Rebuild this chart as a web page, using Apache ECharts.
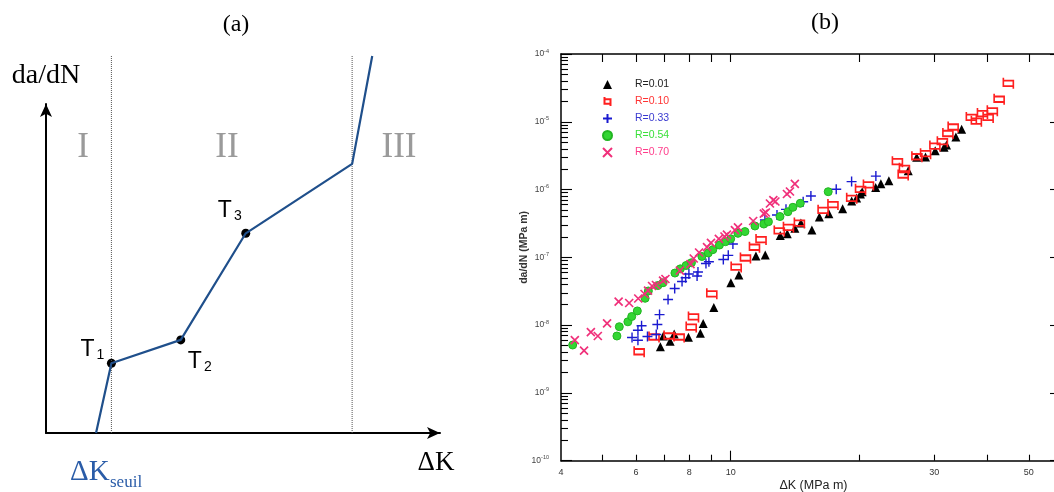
<!DOCTYPE html>
<html>
<head>
<meta charset="utf-8">
<script src="https://cdn.jsdelivr.net/npm/echarts@6/dist/echarts.min.js"></script>
<style>html,body{margin:0;padding:0;background:#fff}#c{width:1054px;height:492px}</style>
</head>
<body>
<div id="c"></div>
<script>
// ---------- Panel (b): fatigue crack growth data [ΔK (MPa√m), da/dN] ----------
const r001 = [[6.84,4.80e-9],[6.95,6.91e-9],[7.21,5.77e-9],[7.37,7.40e-9],[7.96,6.61e-9],[8.49,7.57e-9],[8.62,1.06e-8],[9.13,1.82e-8],[10.01,4.22e-8],[10.45,5.49e-8],[11.46,1.05e-7],[12.05,1.08e-7],[13.07,2.10e-7],[13.57,2.23e-7],[14.14,2.68e-7],[14.61,3.21e-7],[15.50,2.53e-7],[16.14,3.94e-7],[16.99,4.40e-7],[18.30,5.20e-7],[19.22,6.78e-7],[19.74,7.51e-7],[20.15,8.60e-7],[20.34,9.30e-7],[21.88,1.07e-6],[22.50,1.22e-6],[23.49,1.35e-6],[26.08,1.89e-6],[27.30,2.99e-6],[28.63,3.02e-6],[30.17,3.73e-6],[31.65,4.20e-6],[32.07,4.54e-6],[33.73,5.96e-6],[34.80,7.74e-6]];
const r010 = [[6.10,4.05e-9],[6.61,6.68e-9],[7.17,6.91e-9],[7.57,6.68e-9],[8.08,9.38e-9],[8.18,1.32e-8],[9.03,2.90e-8],[10.30,7.20e-8],[10.83,9.78e-8],[11.37,1.41e-7],[11.78,1.83e-7],[13.00,2.45e-7],[13.66,2.77e-7],[14.49,3.21e-7],[16.47,4.94e-7],[17.37,6.00e-7],[19.22,7.43e-7],[20.16,1.01e-6],[21.04,1.17e-6],[24.60,2.58e-6],[25.55,2.06e-6],[25.38,1.64e-6],[27.33,3.05e-6],[28.64,3.38e-6],[30.12,4.39e-6],[31.36,5.08e-6],[32.31,6.72e-6],[33.24,8.38e-6],[36.67,1.16e-5],[37.68,1.02e-5],[38.94,1.32e-5],[40.15,1.16e-5],[41.07,1.45e-5],[42.61,2.15e-5],[44.78,3.70e-5]];
const r033 = [[5.87,6.57e-9],[6.06,5.97e-9],[6.06,8.39e-9],[6.18,9.80e-9],[6.38,6.79e-9],[6.69,7.27e-9],[6.73,1.02e-8],[6.81,1.43e-8],[7.13,2.39e-8],[7.39,3.47e-8],[7.69,4.40e-8],[7.84,5.01e-8],[7.98,5.68e-8],[8.34,5.30e-8],[8.38,6.08e-8],[8.75,8.11e-8],[8.89,8.62e-8],[9.61,9.29e-8],[9.87,1.07e-7],[10.12,1.57e-7],[12.03,3.56e-7],[12.84,4.21e-7],[13.48,5.11e-7],[14.79,6.62e-7],[15.42,8.04e-7],[17.68,1.01e-6],[19.21,1.31e-6],[21.90,1.58e-6]];
const r054 = [[4.26,5.09e-9],[5.41,6.91e-9],[5.48,9.48e-9],[5.74,1.12e-8],[5.86,1.34e-8],[6.04,1.62e-8],[6.30,2.49e-8],[6.41,3.19e-8],[6.75,3.84e-8],[6.94,4.22e-8],[7.40,5.87e-8],[7.62,6.77e-8],[7.86,7.58e-8],[8.09,8.33e-8],[8.56,1.03e-7],[8.86,1.16e-7],[9.08,1.30e-7],[9.41,1.52e-7],[9.72,1.70e-7],[10.0,1.88e-7],[10.40,2.26e-7],[10.80,2.40e-7],[11.40,2.90e-7],[11.96,3.10e-7],[12.26,3.36e-7],[13.05,4.00e-7],[13.62,4.71e-7],[13.99,5.47e-7],[14.56,6.27e-7],[16.93,9.30e-7]];
const r070 = [[4.31,6.03e-9],[4.53,4.22e-9],[4.70,7.91e-9],[4.88,6.91e-9],[5.13,1.06e-8],[5.46,2.23e-8],[5.78,2.12e-8],[6.07,2.47e-8],[6.28,2.88e-8],[6.40,3.24e-8],[6.54,3.78e-8],[6.68,3.91e-8],[6.94,4.55e-8],[7.03,4.79e-8],[7.60,6.39e-8],[8.05,7.97e-8],[8.19,9.61e-8],[8.43,1.18e-7],[8.80,1.42e-7],[8.99,1.63e-7],[9.38,1.87e-7],[9.67,2.03e-7],[9.80,2.17e-7],[10.23,2.53e-7],[10.40,2.76e-7],[11.29,3.44e-7],[11.96,4.43e-7],[12.09,4.59e-7],[12.36,6.23e-7],[12.59,7.01e-7],[12.73,6.67e-7],[13.55,8.60e-7],[13.77,9.36e-7],[14.14,1.21e-6]];

const seriesNames = ['R=0.01','R=0.10','R=0.33','R=0.54','R=0.70'];
const xTickValues = [5,6,7,8,9,20,30,40,50];
const xMajorTick = [10];
const xLabelValues = [4,6,8,10,30,50];
const yDecades = [1e-10,1e-9,1e-8,1e-7,1e-6,1e-5,1e-4];
const yMinorMultipliers = [2,3,4,5,6,7,8,9];

// ---------- Panel (a): schematic curve (arbitrary units, 0-100) ----------
const curveX = [12.7, 16.6, 34.2, 50.7, 77.7, 82.8];
const curveY = [0, 21.2, 28.3, 60.7, 81.8, 114.6];
const transitionIdx = [1, 2, 3];
const transitionSub = ['1', '2', '3'];
const boundaryX = [16.6, 77.7];
const boundaryTop = 114.6;
const regimeLabels = ['I', 'II', 'III'];

// ---------- styling ----------
const SANS = '"Liberation Sans", Arial, sans-serif';
const SERIF = '"Liberation Serif", "DejaVu Serif", serif';
const colors = ['#000000', '#ff1f1f', '#1a1ad0', '#33d633', '#f0307a'];
const legendTextColors = ['#222222', '#ff3333', '#3a3ad0', '#3be03b', '#ff3d8b'];
const tOffsets = [[-19, -13], [19, 22], [-16, -22]];
const regimePos = [[83, 148], [227, 148], [399, 148]];

const yMinorTicks = [];
yDecades.slice(0, -1).forEach(d => yMinorMultipliers.forEach(m => yMinorTicks.push(m * d)));

const logX = {type: 'log', logBase: 10, min: 4, max: 57.3, gridIndex: 0, splitLine: {show: false}};
const logY = {type: 'log', logBase: 10, min: 1e-10, max: 1e-4, gridIndex: 0, splitLine: {show: false}};
const axLine = {lineStyle: {color: '#000', width: 1.5}};
const tickStyle = {color: '#000', width: 1.1};

const symbols = [
  'triangle',
  'path://M1,3L9,3L9,9L1,9Z M1,0L1,3 M9,9L9,12',
  'path://M5,0L5,10M0,5L10,5',
  'circle',
  'path://M0,0L10,10M10,0L0,10'
];
const symbolSizes = [9, [10, 11], 10, 8, 8];
const itemStyles = [
  {color: colors[0], opacity: 1},
  {color: 'rgba(0,0,0,0)', borderColor: colors[1], borderWidth: 1.7, opacity: 1},
  {color: 'rgba(0,0,0,0)', borderColor: colors[2], borderWidth: 1.4, opacity: 1},
  {color: colors[3], borderColor: '#22b522', borderWidth: 1, opacity: 1},
  {color: 'rgba(0,0,0,0)', borderColor: colors[4], borderWidth: 1.7, opacity: 1}
];
const dataSets = [r001, r010, r033, r054, r070];

const scatterSeries = dataSets.map((d, i) => ({
  name: seriesNames[i], type: 'scatter', xAxisIndex: 0, yAxisIndex: 0,
  data: d, symbol: symbols[i], symbolSize: symbolSizes[i], itemStyle: itemStyles[i],
  emphasis: {disabled: true}
}));

const curveData = curveX.map((x, i) => [x, curveY[i]]);

const option = {
  animation: false,
  backgroundColor: '#fff',
  grid: [
    {left: 561, top: 54, width: 493, height: 406.7, outerBoundsMode: 'none', containLabel: false},
    {left: 46, top: 104, width: 394, height: 329, outerBoundsMode: 'none', containLabel: false}
  ],
  legend: {
    orient: 'vertical', left: 597, top: 74, itemWidth: 9, itemHeight: 9, itemGap: 6,
    selectedMode: false,
    textStyle: {fontSize: 10.5, fontFamily: SANS, padding: [0, 0, 0, 18]},
    data: seriesNames.map((n, i) => ({name: n, textStyle: {color: legendTextColors[i], padding: [0, 0, 0, 18]}}))
  },
  xAxis: [
    Object.assign({}, logX, {
      position: 'bottom', axisLine: axLine,
      axisTick: {inside: true, length: 6, customValues: xTickValues, lineStyle: tickStyle},
      axisLabel: {customValues: xLabelValues, fontSize: 9, color: '#333', margin: 7, fontFamily: SANS},
      name: 'ΔK (MPa m)', nameLocation: 'middle', nameGap: 18, nameMoveOverlap: false,
      nameTextStyle: {fontSize: 12.5, color: '#222', fontFamily: SANS, padding: [0, 0, 0, 12]}
    }),
    Object.assign({}, logX, {
      position: 'bottom', axisLine: {show: false},
      axisTick: {inside: true, length: 10, customValues: xMajorTick, lineStyle: tickStyle},
      axisLabel: {show: false}
    }),
    Object.assign({}, logX, {
      position: 'top', axisLine: axLine,
      axisTick: {inside: true, length: 8, customValues: xTickValues.concat(xMajorTick), lineStyle: tickStyle},
      axisLabel: {show: false}
    }),
    {
      gridIndex: 1, type: 'value', min: 0, max: 100,
      axisLine: {symbol: ['none', 'arrow'], symbolSize: [9, 13], symbolOffset: [0, 0], lineStyle: {color: '#000', width: 2}},
      axisTick: {show: false}, axisLabel: {show: false}, splitLine: {show: false},
      name: 'ΔK', nameLocation: 'end', nameGap: -4,
      nameTextStyle: {fontFamily: SERIF, fontSize: 27, color: '#000', align: 'center', verticalAlign: 'top', padding: [16, 0, 0, 0]}
    }
  ],
  yAxis: [
    Object.assign({}, logY, {
      position: 'left', axisLine: axLine,
      axisTick: {inside: true, length: 7, customValues: yMinorTicks, lineStyle: tickStyle},
      axisLabel: {
        customValues: yDecades, margin: 12,
        formatter: v => '{b|10}{s|' + Math.round(Math.log10(v)) + '}',
        rich: {
          b: {fontSize: 8.5, color: '#444', fontFamily: SANS},
          s: {fontSize: 5.5, color: '#444', fontFamily: SANS, verticalAlign: 'top', padding: [0, 0, 6, 0]}
        }
      },
      name: 'da/dN (MPa m)', nameLocation: 'middle', nameGap: 31, nameMoveOverlap: false,
      nameTextStyle: {fontSize: 10.5, fontWeight: 'bold', color: '#333', fontFamily: SANS, padding: [0, 0, 0, 20]}
    }),
    Object.assign({}, logY, {
      position: 'left', axisLine: {show: false},
      axisTick: {inside: true, length: 11, customValues: yDecades, lineStyle: tickStyle},
      axisLabel: {show: false}
    }),
    Object.assign({}, logY, {
      position: 'right', axisLine: {show: false},
      axisTick: {inside: true, length: 4, customValues: yDecades, lineStyle: tickStyle},
      axisLabel: {show: false}
    }),
    {
      gridIndex: 1, type: 'value', min: 0, max: 100,
      axisLine: {symbol: ['none', 'arrow'], symbolSize: [9, 13], symbolOffset: [0, 0], lineStyle: {color: '#000', width: 2}},
      axisTick: {show: false}, axisLabel: {show: false}, splitLine: {show: false},
      name: 'da/dN', nameLocation: 'end', nameGap: 14,
      nameTextStyle: {fontFamily: SERIF, fontSize: 28, color: '#000'}
    }
  ],
  series: scatterSeries.concat(
    boundaryX.map(x => ({
      type: 'line', xAxisIndex: 3, yAxisIndex: 3, clip: false, silent: true,
      data: [[x, 0], [x, boundaryTop]], symbol: 'none',
      lineStyle: {type: 'dotted', color: '#555', width: 1}
    })),
    [{
      type: 'line', xAxisIndex: 3, yAxisIndex: 3, clip: false, silent: true,
      data: curveData, symbol: 'none',
      lineStyle: {color: '#1f4f8b', width: 2.2}
    }, {
      type: 'scatter', xAxisIndex: 3, yAxisIndex: 3, clip: false, silent: true,
      symbol: 'circle', symbolSize: 9, itemStyle: {color: '#000', opacity: 1},
      data: transitionIdx.map((k, j) => ({
        value: curveData[k],
        label: {
          show: true, position: 'inside', offset: tOffsets[j],
          formatter: '{t|T}{s|' + transitionSub[j] + '}',
          rich: {
            t: {fontSize: 23, fontFamily: SANS, color: '#000', verticalAlign: 'top', lineHeight: 24},
            s: {fontSize: 14, fontFamily: SANS, color: '#000', verticalAlign: 'bottom', lineHeight: 14, padding: [16, 0, 0, 2]}
          }
        }
      }))
    }]
  ),
  graphic: [
    {type: 'text', x: 236, y: 25, style: {text: '(a)', fontSize: 24, fontFamily: SERIF, fill: '#000', align: 'center', verticalAlign: 'middle'}},
    {type: 'text', x: 825, y: 23, style: {text: '(b)', fontSize: 24, fontFamily: SERIF, fill: '#000', align: 'center', verticalAlign: 'middle'}}
  ].concat(regimeLabels.map((t, i) => ({
    type: 'text', x: regimePos[i][0], y: regimePos[i][1],
    style: {text: t, fontSize: 35, fontFamily: SERIF, fill: '#9a9a9a', align: 'center', verticalAlign: 'middle'}
  }))).concat([
    {type: 'text', x: 70, y: 472, style: {text: 'ΔK', fontSize: 29, fontFamily: SERIF, fill: '#2a5ca8', align: 'left', verticalAlign: 'middle'}},
    {type: 'text', x: 110, y: 483, style: {text: 'seuil', fontSize: 17, fontFamily: SERIF, fill: '#2a5ca8', align: 'left', verticalAlign: 'middle'}}
  ])
};

const chart = echarts.init(document.getElementById('c'));
chart.setOption(option);
</script>
</body>
</html>
